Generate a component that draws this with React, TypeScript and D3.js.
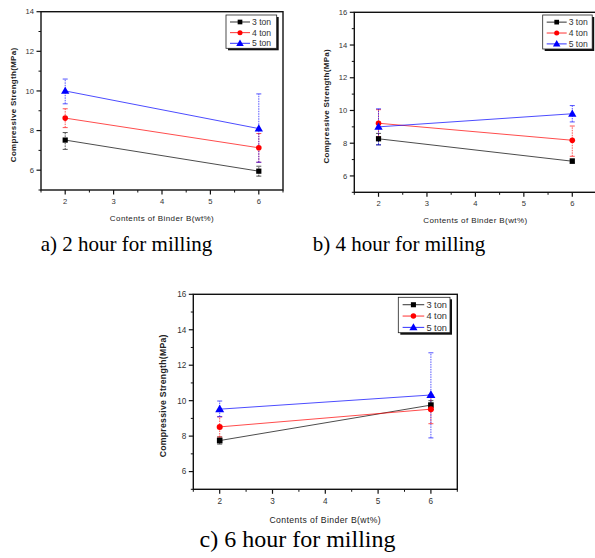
import React from "react";
import * as d3 from "d3";

// x values (binder content, wt%)
const binderContents = [2, 6];
const seriesNames = ["3 ton", "4 ton", "5 ton"];
const seriesColors = ["#000000", "#ff0000", "#0000ff"];
const xTicks = [2, 3, 4, 5, 6];
const yTicksA = [6, 8, 10, 12, 14];
const yTicksBC = [6, 8, 10, 12, 14, 16];

// a) 2 hour milling
const h2Ton3 = [7.52, 5.95];
const h2Ton4 = [8.63, 7.13];
const h2Ton5 = [10.0, 8.1];
const h2Ton3Err = [[7.05, 7.9], [5.7, 6.2]];
const h2Ton4Err = [[8.15, 9.1], [6.4, 7.85]];
const h2Ton5Err = [[9.35, 10.6], [6.4, 9.85]];

// b) 4 hour milling
const h4Ton3 = [8.27, 6.9];
const h4Ton4 = [9.22, 8.18];
const h4Ton5 = [9.0, 9.8];
const h4Ton3Err = [[7.9, 8.6], [6.78, 7.05]];
const h4Ton4Err = [[8.4, 10.05], [7.2, 9.05]];
const h4Ton5Err = [[7.9, 10.1], [9.3, 10.3]];

// c) 6 hour milling
const h6Ton3 = [7.75, 9.75];
const h6Ton4 = [8.52, 9.52];
const h6Ton5 = [9.52, 10.32];
const h6Ton3Err = [[7.55, 7.95], [9.5, 10.0]];
const h6Ton4Err = [[7.95, 9.08], [8.7, 10.35]];
const h6Ton5Err = [[9.1, 9.98], [7.9, 12.7]];

const FONT = "'Liberation Sans', Arial, sans-serif";

const Marker = ({ kind, x, y, color, s }) => {
    if (kind === 0) return <rect x={x - 2.6 * s} y={y - 2.6 * s} width={5.2 * s} height={5.2 * s} fill={color} />;
    if (kind === 1) return <circle cx={x} cy={y} r={2.8 * s} fill={color} />;
    const sym = d3.symbol().type(d3.symbolTriangle).size(30 * s * s);
    return <path d={sym()} transform={`translate(${x},${y + 0.5})`} fill={color} />;
};

const Panel = ({ x0, y0, w, h, yMax, yTicks, series, errors, legend, s }) => {
    const x = d3.scaleLinear().domain([1.5, 6.5]).range([x0, x0 + w]);
    const y = d3.scaleLinear().domain([5, yMax]).range([y0 + h, y0]);
    const line = d3.line().x((d, i) => x(binderContents[i])).y(d => y(d));
    const xMinor = d3.range(1.5, 6.51, 0.5).filter(v => !xTicks.includes(v));
    const yMinor = d3.range(5, yMax + 0.01, 1).filter(v => !yTicks.includes(v));
    const fs = 7.6 * s;

    return (
        <g fontFamily={FONT}>
            {/* error bars */}
            {errors.map((errs, si) =>
                errs.map((e, i) => (
                    <g key={`e${si}-${i}`} stroke={seriesColors[si]} strokeWidth={0.9} opacity={0.75}>
                        <line x1={x(binderContents[i])} x2={x(binderContents[i])} y1={y(e[0])} y2={y(e[1])} strokeDasharray="1.5,1" />
                        <line x1={x(binderContents[i]) - 2.5} x2={x(binderContents[i]) + 2.5} y1={y(e[0])} y2={y(e[0])} />
                        <line x1={x(binderContents[i]) - 2.5} x2={x(binderContents[i]) + 2.5} y1={y(e[1])} y2={y(e[1])} />
                    </g>
                ))
            )}
            {series.map((vals, si) => (
                <g key={`s${si}`}>
                    <path d={line(vals)} fill="none" stroke={seriesColors[si]} strokeWidth={1} opacity={0.7} />
                    {vals.map((v, i) => (
                        <Marker key={i} kind={si} x={x(binderContents[i])} y={y(v)} color={seriesColors[si]} s={s} />
                    ))}
                </g>
            ))}

            {/* frame */}
            <rect x={x0} y={y0} width={w} height={h} fill="none" stroke="#111" strokeWidth={1.4} />

            {/* y axis ticks */}
            {yTicks.map(t => (
                <g key={`yt${t}`}>
                    <line x1={x0 - 4.5} x2={x0} y1={y(t)} y2={y(t)} stroke="#111" strokeWidth={1.2} />
                    <text x={x0 - 7} y={y(t)} dy="0.35em" textAnchor="end" fontSize={fs} fill="#333">{t}</text>
                </g>
            ))}
            {yMinor.map(t => (
                <line key={`ym${t}`} x1={x0 - 2.5} x2={x0} y1={y(t)} y2={y(t)} stroke="#111" strokeWidth={1} />
            ))}

            {/* x axis ticks */}
            {xTicks.map(t => (
                <g key={`xt${t}`}>
                    <line x1={x(t)} x2={x(t)} y1={y0 + h} y2={y0 + h + 4.5} stroke="#111" strokeWidth={1.2} />
                    <text x={x(t)} y={y0 + h + 11 * s} dy="0.35em" textAnchor="middle" fontSize={fs} fill="#333">{t}</text>
                </g>
            ))}
            {xMinor.map(t => (
                <line key={`xm${t}`} x1={x(t)} x2={x(t)} y1={y0 + h} y2={y0 + h + 2.5} stroke="#111" strokeWidth={1} />
            ))}

            {/* axis titles */}
            <text
                transform={`translate(${x0 - 28 * s},${y0 + h / 2 + 4}) rotate(-90)`}
                textAnchor="middle"
                dy="0.35em"
                fontSize={8 * s}
                fontWeight="bold"
                fill="#222"
                letterSpacing={0.3}
            >
                Compressive Strength(MPa)
            </text>
            <text x={x0 + w / 2} y={y0 + h + 28 * s} dy="0.35em" textAnchor="middle" fontSize={8 * s} fill="#222" letterSpacing={0.4}>
                Contents of Binder B(wt%)
            </text>

            {/* legend */}
            <g>
                <rect x={legend.x + 2} y={legend.y + 2} width={legend.w} height={legend.h} fill="#111" />
                <rect x={legend.x} y={legend.y} width={legend.w} height={legend.h} fill="#fff" stroke="#222" strokeWidth={0.8} />
                {seriesNames.map((name, si) => {
                    const ry = legend.y + legend.h * 0.21 + si * legend.h * 0.32;
                    const lx = legend.x + 4 * s;
                    return (
                        <g key={name}>
                            <line x1={lx} x2={lx + 20 * s} y1={ry} y2={ry} stroke={seriesColors[si]} strokeWidth={1} opacity={0.8} />
                            <Marker kind={si} x={lx + 10 * s} y={ry} color={seriesColors[si]} s={s * 0.9} />
                            <text x={lx + 22 * s} y={ry} dy="0.35em" fontSize={8.6 * s} fill="#333">{name}</text>
                        </g>
                    );
                })}
            </g>
        </g>
    );
};

const App = () => {
    return (
        <svg width={595} height={558} style={{ position: "absolute", left: 0, top: 0, background: "#fff" }}>
            <rect width={595} height={558} fill="#fff" />
            <Panel
                x0={41} y0={11.7} w={242} h={178.3} yMax={14} yTicks={yTicksA}
                series={[h2Ton3, h2Ton4, h2Ton5]}
                errors={[h2Ton3Err, h2Ton4Err, h2Ton5Err]}
                legend={{ x: 226, y: 15, w: 50.7, h: 33.3 }}
                s={1}
            />
            <Panel
                x0={354.3} y0={12.3} w={242.2} h={180} yMax={16} yTicks={yTicksBC}
                series={[h4Ton3, h4Ton4, h4Ton5]}
                errors={[h4Ton3Err, h4Ton4Err, h4Ton5Err]}
                legend={{ x: 542.7, y: 15, w: 49.5, h: 34 }}
                s={1}
            />
            <Panel
                x0={193.3} y0={294.3} w={264} h={195} yMax={16} yTicks={yTicksBC}
                series={[h6Ton3, h6Ton4, h6Ton5]}
                errors={[h6Ton3Err, h6Ton4Err, h6Ton5Err]}
                legend={{ x: 398.3, y: 297.3, w: 51.7, h: 35.4 }}
                s={1.08}
            />
            <g fontFamily="'Liberation Serif', 'Times New Roman', serif" fill="#000">
                <text x={126.5} y={251} textAnchor="middle" fontSize={21}>a) 2 hour for milling</text>
                <text x={399} y={251} textAnchor="middle" fontSize={21}>b) 4 hour for milling</text>
                <text x={297.5} y={547} textAnchor="middle" fontSize={24}>c) 6 hour for milling</text>
            </g>
        </svg>
    );
};

export default App;
